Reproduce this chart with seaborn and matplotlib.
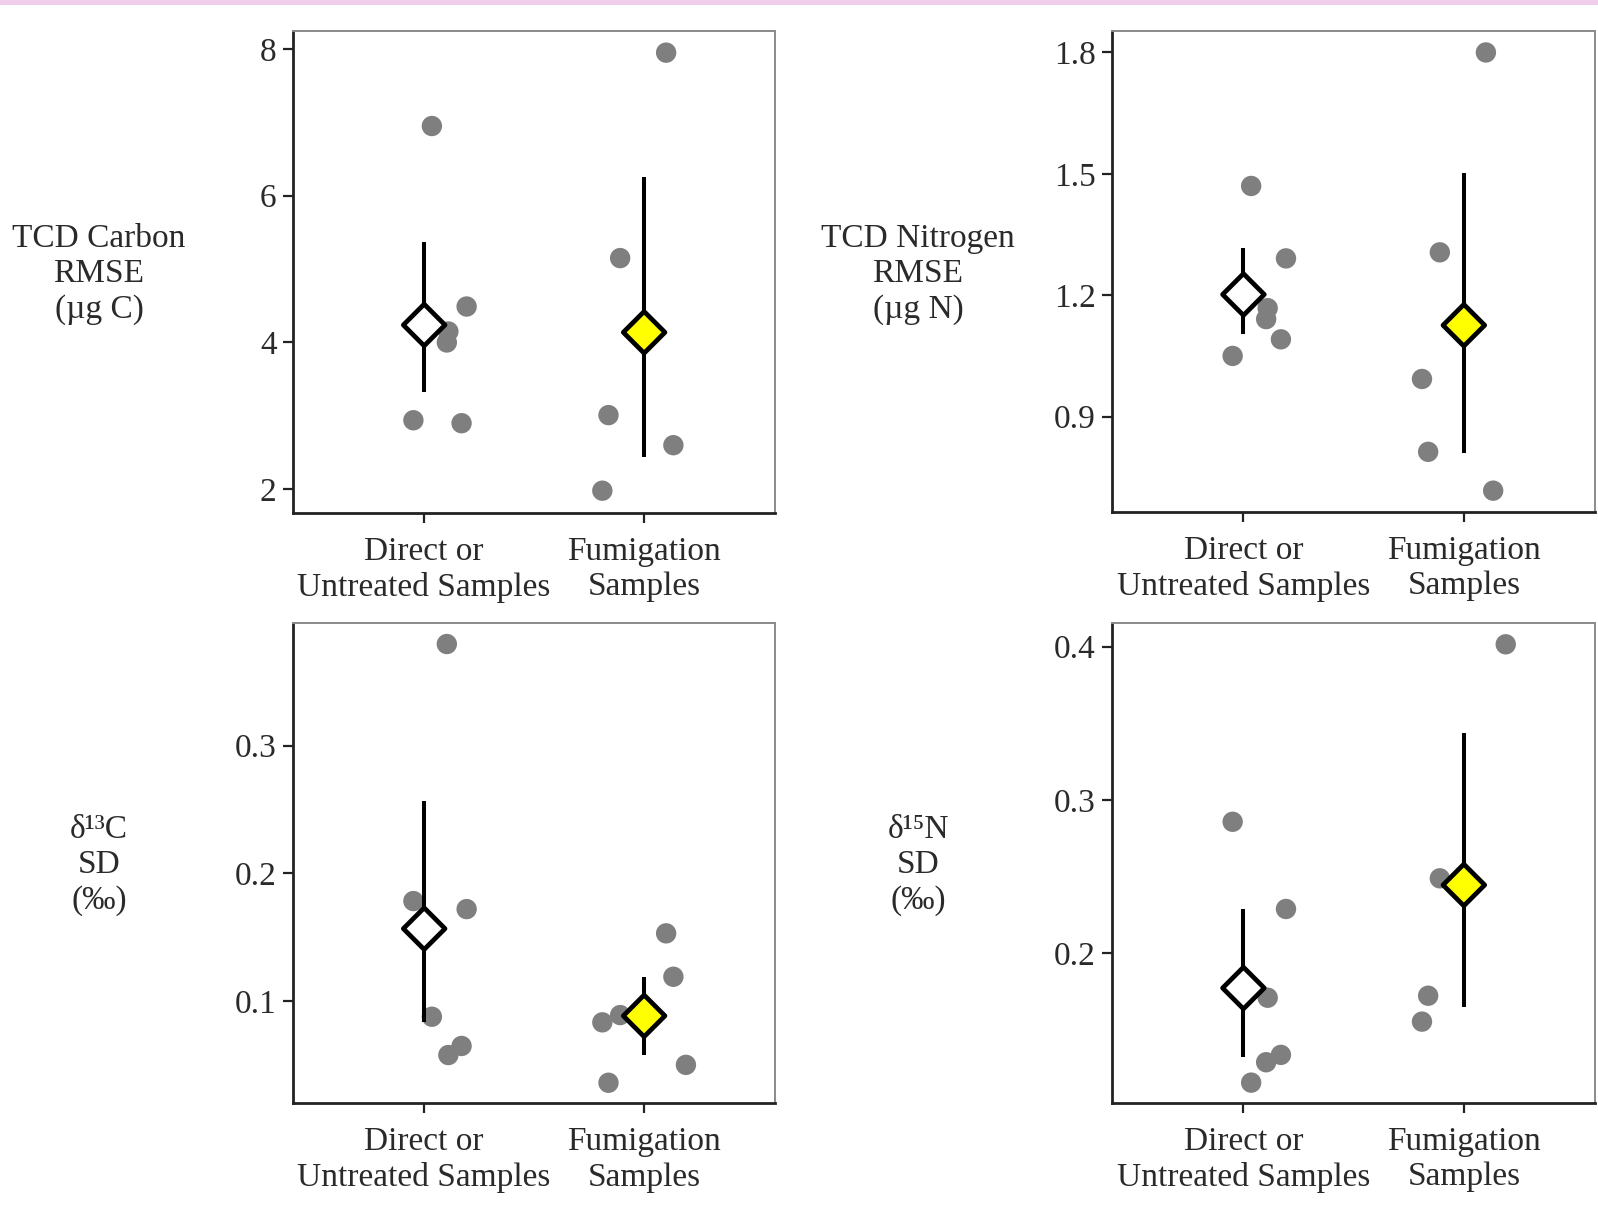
import numpy as np
import pandas as pd
import matplotlib
matplotlib.use("Agg")
import matplotlib.pyplot as plt
import seaborn as sns
from matplotlib.patches import Rectangle

# ---------------- data ----------------
groups = ["Direct or\nUntreated Samples", "Fumigation\nSamples"]

# sample ids and their horizontal jitter (in category units)
jitter = {"A": 0.035, "B": 0.193, "C": 0.11, "D": 0.103, "E": -0.049, "F": 0.17,
          "G": 0.10, "H": -0.109, "I": -0.162, "J": 0.133, "K": -0.19, "L": 0.19}

# panel 1: TCD Carbon RMSE (µg C)
c_rmse_g1 = {"A": 6.95, "B": 4.49, "C": 4.15, "D": 4.00, "E": 2.94, "F": 2.90}
c_rmse_g2 = {"G": 7.95, "H": 5.15, "I": 3.01, "J": 2.60, "K": 1.98}
c_rmse_ci_low = [3.33, 2.44]
c_rmse_ci_high = [5.37, 6.26]

# panel 2: TCD Nitrogen RMSE (µg N)
n_rmse_g1 = {"A": 1.470, "B": 1.291, "C": 1.168, "D": 1.141, "E": 1.050, "F": 1.091}
n_rmse_g2 = {"G": 1.800, "H": 1.306, "I": 0.813, "J": 0.717, "K": 0.993}
n_rmse_ci_low = [1.104, 0.811]
n_rmse_ci_high = [1.317, 1.502]

# panel 3: d13C SD (permil)
c13_sd_g1 = {"A": 0.0877, "B": 0.172, "C": 0.0577, "D": 0.3796, "E": 0.1783, "F": 0.0648}
c13_sd_g2 = {"G": 0.153, "H": 0.089, "I": 0.036, "J": 0.119, "K": 0.0833, "L": 0.050}
c13_sd_ci_low = [0.0833, 0.0577]
c13_sd_ci_high = [0.2569, 0.119]

# panel 4: d15N SD (permil)
n15_sd_g1 = {"A": 0.1156, "B": 0.2289, "C": 0.1710, "D": 0.1289, "E": 0.2858, "F": 0.1337}
n15_sd_g2 = {"H": 0.2489, "I": 0.1723, "K": 0.1554, "L": 0.4016}
n15_sd_ci_low = [0.1326, 0.1648]
n15_sd_ci_high = [0.2287, 0.3439]

ylabels = ["TCD Carbon\nRMSE\n(µg C)", "TCD Nitrogen\nRMSE\n(µg N)",
           "δ¹³C\nSD\n(‰)", "δ¹⁵N\nSD\n(‰)"]
yticks = [[2, 4, 6, 8], [0.9, 1.2, 1.5, 1.8], [0.1, 0.2, 0.3], [0.2, 0.3, 0.4]]
ytick_labels = [["2", "4", "6", "8"], ["0.9", "1.2", "1.5", "1.8"],
                ["0.1", "0.2", "0.3"], ["0.2", "0.3", "0.4"]]
ylims = [(1.68, 8.245), (0.665, 1.853), (0.0199, 0.3963), (0.1025, 0.4153)]

panels = [
    (c_rmse_g1, c_rmse_g2, c_rmse_ci_low, c_rmse_ci_high),
    (n_rmse_g1, n_rmse_g2, n_rmse_ci_low, n_rmse_ci_high),
    (c13_sd_g1, c13_sd_g2, c13_sd_ci_low, c13_sd_ci_high),
    (n15_sd_g1, n15_sd_g2, n15_sd_ci_low, n15_sd_ci_high),
]

# ---------------- style ----------------
sns.set_theme(style="white")
plt.rcParams["font.family"] = ["Liberation Serif", "DejaVu Serif"]
plt.rcParams["font.size"] = 24

TXT = "#2a2a2a"

fig = plt.figure(figsize=(15.98, 12.11), dpi=100)
fig.patches.append(Rectangle((0, 1 - 5 / 1211), 1, 5 / 1211, transform=fig.transFigure,
                             facecolor="#F1CDEC", edgecolor="none", zorder=0))

axes_pos = [
    [293.3 / 1598, 1 - 512.7 / 1211, 481.7 / 1598, 481.7 / 1211],
    [1112.3 / 1598, 1 - 511.7 / 1211, 482.7 / 1598, 480.7 / 1211],
    [293.3 / 1598, 1 - 1103.3 / 1211, 481.7 / 1598, 480.6 / 1211],
    [1112.3 / 1598, 1 - 1102.7 / 1211, 482.7 / 1598, 479.4 / 1211],
]
label_pos = [(99, 274), (918, 274), (99, 865), (918, 865)]

for i, (g1, g2, lo, hi) in enumerate(panels):
    ax = fig.add_axes(axes_pos[i])
    rows = []
    for gi, d in enumerate([g1, g2]):
        for s, v in d.items():
            rows.append({"group": gi, "sample": s, "value": v,
                         "xpos": gi + jitter[s]})
    df = pd.DataFrame(rows)
    means = df.groupby("group")["value"].mean().reindex([0, 1]).values

    sns.scatterplot(data=df, x="xpos", y="value", color="#7f7f7f", s=215,
                    edgecolor="none", linewidth=0, ax=ax, zorder=2, legend=False)
    ax.vlines([0, 1], lo, hi, colors="black", linewidth=2.9, zorder=3)
    mdf = pd.DataFrame({"x": [0, 1], "mean": means, "fill": ["white", "yellow"]})
    sns.scatterplot(data=mdf, x="x", y="mean", hue="fill",
                    palette={"white": "white", "yellow": "#FFFF00"},
                    marker="D", s=450, edgecolor="black", linewidth=3.4,
                    ax=ax, zorder=4, legend=False)

    ax.set_xlim(-0.595, 1.595)
    ax.set_ylim(*ylims[i])
    ax.set_xticks([0, 1])
    ax.set_xticklabels(groups, fontsize=24, linespacing=1.2)
    ax.set_yticks(yticks[i])
    ax.set_yticklabels(ytick_labels[i], fontsize=24)
    ax.set_xlabel("")
    ax.set_ylabel("")
    ax.tick_params(axis="both", direction="out", length=7, width=1.6,
                   color="#222222", labelcolor=TXT, bottom=True, left=True)
    ax.tick_params(axis="x", pad=10)
    ax.tick_params(axis="y", pad=5)
    for sp in ["left", "bottom"]:
        ax.spines[sp].set_color("#222222")
        ax.spines[sp].set_linewidth(2.0)
    for sp in ["top", "right"]:
        ax.spines[sp].set_color("#8a8a8a")
        ax.spines[sp].set_linewidth(1.4)
    ax.grid(False)
    ax.set_facecolor("white")

    lx, ly = label_pos[i]
    fig.text(lx / 1598, 1 - ly / 1211, ylabels[i], ha="center", va="center",
             multialignment="center", fontsize=24, linespacing=1.2, color=TXT)

fig.savefig("out.png", dpi=100, facecolor="white")
